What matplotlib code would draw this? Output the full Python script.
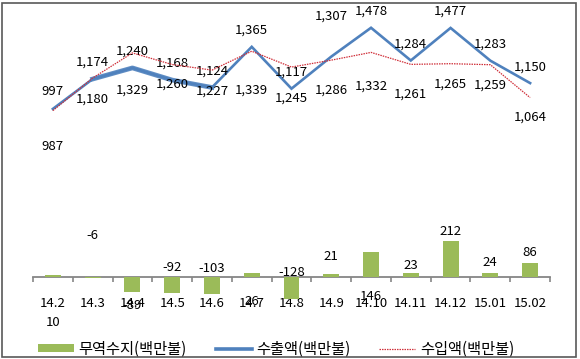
import matplotlib
matplotlib.use('Agg')
import matplotlib.pyplot as plt
from matplotlib.lines import Line2D
from matplotlib.patches import Patch, Rectangle
import numpy as np

plt.rcParams['font.family'] = ['Noto Sans CJK KR', 'DejaVu Sans']

months = ['14.2', '14.3', '14.4', '14.5', '14.6', '14.7', '14.8',
          '14.9', '14.10', '14.11', '14.12', '15.01', '15.02']
exports = [997, 1174, 1240, 1168, 1124, 1365, 1117, 1307, 1478, 1284, 1477, 1283, 1150]
imports = [987, 1180, 1329, 1260, 1227, 1339, 1245, 1286, 1332, 1261, 1265, 1259, 1064]
balance = [10, -6, -89, -92, -103, 26, -128, 21, 146, 23, 212, 24, 86]

# label offsets in pixels (up = positive), copied from the excel layout
exp_dy = [17, 17, 17, 17, 16, 17, 17, 40, 17, 16, 17, 17, 16]
imp_dy = [-36, -21, -37, -20, -21, -39, -31, -30, -34, -30, -20, -20, -20]
bal_dy = [-47, 43, -13, 25, 26, -29, 26, 17, -44, 8, 10, 11, 10]

BLUE = '#4F81BD'
RED = '#D0303A'
GREEN = '#9BBB59'
AXIS = '#868686'

W, H = 580, 359
fig = plt.figure(figsize=(W / 100, H / 100), dpi=100)
# axes: x 33..550 px, y 5..300 px (from top)
ax = fig.add_axes([33 / W, 1 - 300 / H, (550 - 33) / W, 295 / H])
x = np.arange(len(months))

ax.bar(x, balance, width=0.4, color=GREEN, zorder=2)
ax.plot(x, exports, color=BLUE, lw=1.9, zorder=3, solid_joinstyle='miter')
ax.plot(x[1:5], exports[1:5], color=BLUE, lw=3.4, zorder=3, alpha=0.9)
ax.plot(x, imports, color=RED, lw=0.9, ls=(0, (1.2, 0.8)), zorder=4)

fs = 9.5
for i in range(len(months)):
    ax.annotate(f'{exports[i]:,}', (x[i], exports[i]), xytext=(0, exp_dy[i]),
                textcoords='offset pixels', ha='center', va='center', fontsize=fs)
    ax.annotate(f'{imports[i]:,}', (x[i], imports[i]), xytext=(0, imp_dy[i]),
                textcoords='offset pixels', ha='center', va='center', fontsize=fs)
    ax.annotate(f'{balance[i]:,}', (x[i], balance[i]), xytext=(0, bal_dy[i]),
                textcoords='offset pixels', ha='center', va='center', fontsize=fs)

ax.set_xlim(-0.5, len(months) - 0.5)
ax.set_ylim(-136, 1613)
for s in ['top', 'right', 'left']:
    ax.spines[s].set_visible(False)
ax.spines['bottom'].set_position(('data', 0))
ax.spines['bottom'].set_color(AXIS)
ax.spines['bottom'].set_linewidth(1.3)
ax.spines['bottom'].set_zorder(1)
ax.set_yticks([])
ax.set_xticks(x)
ax.set_xticklabels(months, fontsize=fs)
ax.set_xticks(np.arange(-0.5, len(months), 1.0), minor=True)
ax.tick_params(axis='x', which='major', length=0, pad=14)
ax.tick_params(axis='x', which='minor', length=3.5, width=1.2, color=AXIS, direction='out')
ax.patch.set_visible(False)

handles = [Patch(facecolor=GREEN, edgecolor='none'),
           Line2D([], [], color=BLUE, lw=2.6),
           Line2D([], [], color=RED, lw=0.9, ls=(0, (1.2, 0.8)))]
labels = ['무역수지(백만불)', '수출액(백만불)', '수입액(백만불)']
fig.legend(handles, labels, loc='center', bbox_to_anchor=(276 / W, 1 - 349 / H),
           ncol=3, frameon=False, fontsize=11, handlelength=2.35, handleheight=0.4,
           handletextpad=0.3, columnspacing=1.9, borderpad=0)

fig.add_artist(Rectangle((2 / W, 2 / H), (576 - 2) / W, (357 - 3) / H,
                         transform=fig.transFigure, fill=False,
                         edgecolor='#595959', lw=1.2, zorder=10))

fig.savefig('out.png', dpi=100, facecolor='white')
